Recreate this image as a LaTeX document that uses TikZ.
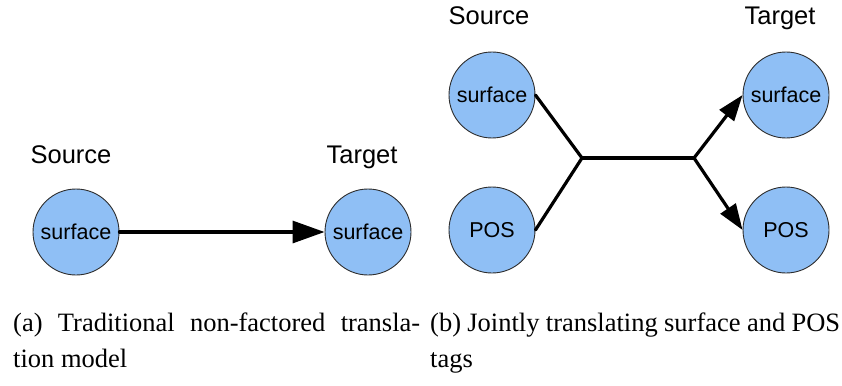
\documentclass[tikz,border=0pt]{standalone}
\usepackage{fontspec}
\setmainfont{Liberation Serif}
\newfontfamily\labelfont{Liberation Sans}
\usetikzlibrary{arrows.meta}
\definecolor{nodeblue}{RGB}{143,191,245}
\definecolor{rimgray}{RGB}{45,45,45}

\begin{document}
\begin{tikzpicture}[x=1pt,y=-1pt,
  factor/.style={circle, draw=rimgray, line width=0.9pt, fill=nodeblue,
    minimum size=86pt, inner sep=0pt, font=\labelfont\fontsize{21.5}{24}\selectfont},
  sidelabel/.style={anchor=base, inner sep=0pt, font=\labelfont\fontsize{25.5}{30}\selectfont},
  link/.style={line width=3.2pt, line cap=round, line join=round},
  bigtip/.style={-{Triangle[length=32pt,width=22pt]}},
  smalltip/.style={-{Triangle[length=26pt,width=18pt]}},
  captionline/.style={anchor=base west, inner sep=0pt, font=\fontsize{26.5}{31}\selectfont}]
\useasboundingbox (0,0) rectangle (842,385);

% (a) single-factor model
\node[sidelabel] (srcA) at (71,163) {Source};
\node[sidelabel] (tgtA) at (362,163) {Target};
\node[factor] (ls) at (76,232) {surface};
\node[factor] (lt) at (368,232) {surface};
\draw[link, bigtip] (ls.east) -- (lt.west);

% (b) joint surface + POS model
\node[sidelabel] (srcB) at (489,25) {Source};
\node[sidelabel] (tgtB) at (780,25) {Target};
\node[factor] (bss) at (492,95) {surface};
\node[factor] (bsp) at (492,230) {POS};
\node[factor] (bts) at (786,95) {surface};
\node[factor] (btp) at (786,230) {POS};
\coordinate (j1) at (582,158);
\coordinate (j2) at (694,158);
\draw[link] (bss.east) -- (j1) -- (bsp.east);
\draw[link] (j1) -- (j2);
\draw[link, smalltip] (j2) -- (bts.west);
\draw[link, smalltip] (j2) -- (btp.west);

% sub-captions
\node[captionline] (capA1) at (13,331) {\makebox[407pt][s]{(a) Traditional non-factored transla-}};
\node[captionline] (capA2) at (13,367) {tion model};
\node[captionline] (capB1) at (430,331) {\makebox[410pt][s]{(b) Jointly translating surface and POS}};
\node[captionline] (capB2) at (430,367) {tags};
\end{tikzpicture}
\end{document}
